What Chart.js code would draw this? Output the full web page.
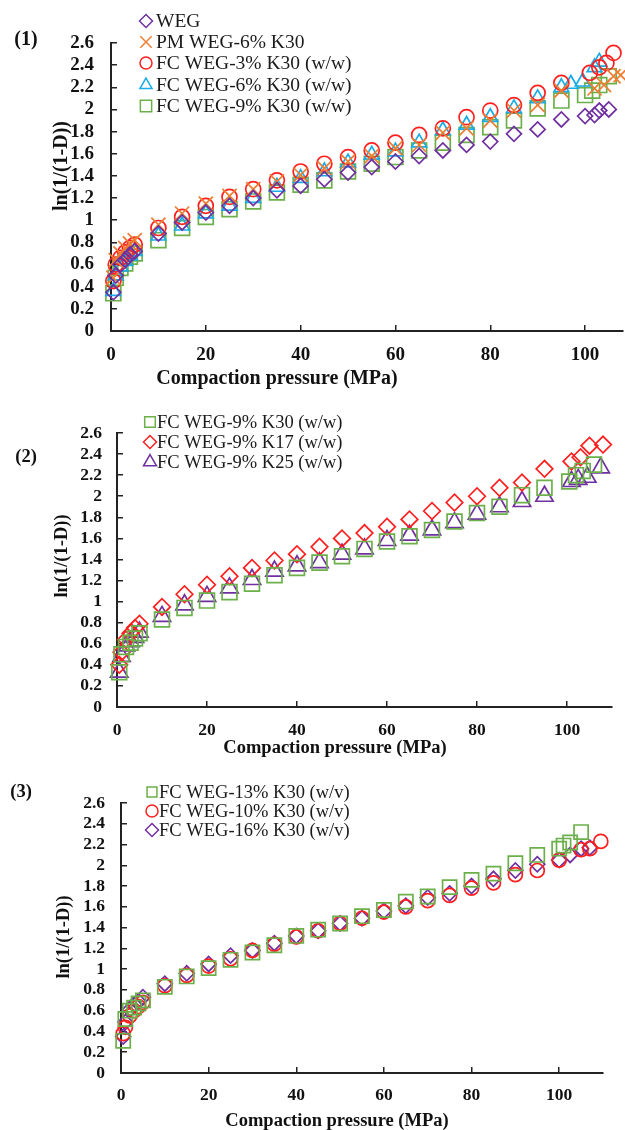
<!DOCTYPE html>
<html lang="en">
<head>
<meta charset="UTF-8" />
<title>Compaction pressure – ln(1/(1-D))</title>
<script src="https://cdn.jsdelivr.net/npm/chart.js@4.4.1/dist/chart.umd.min.js"></script>
<style>
  body { margin: 0; background: #fff; }
  .page { position: relative; width: 625px; height: 1130px; }
  .panel { position: absolute; left: 0; width: 625px; }
</style>
</head>
<body>
<div class="page">
  <div class="panel" style="top:0;height:392px"><canvas id="chart1"></canvas></div>
  <div class="panel" style="top:392px;height:370px"><canvas id="chart2"></canvas></div>
  <div class="panel" style="top:762px;height:368px"><canvas id="chart3"></canvas></div>
</div>

<script>
// pressures (MPa) shared by all runs up to 95 MPa, then each run has its own end points
const pressureBase = [0.5, 1, 2, 3, 4, 5, 10, 15, 20, 25, 30, 35, 40, 45, 50, 55, 60, 65, 70, 75, 80, 85, 90, 95];
const yTicks = [0, 0.2, 0.4, 0.6, 0.8, 1, 1.2, 1.4, 1.6, 1.8, 2, 2.2, 2.4, 2.6];
const xTicks = [0, 20, 40, 60, 80, 100];

// (1)
const p1WegTail = [100, 102, 103, 105];
const p1Weg = [0.35, 0.5, 0.6, 0.64, 0.69, 0.72, 0.88, 0.98, 1.07, 1.13, 1.2, 1.27, 1.31, 1.37, 1.43, 1.48, 1.53, 1.58, 1.63, 1.68, 1.71, 1.78, 1.82, 1.91, 1.94, 1.95, 1.99, 2.0];
const p1PmTail = [102, 104, 106, 107.5];
const p1Pm = [0.48, 0.64, 0.7, 0.75, 0.79, 0.82, 0.96, 1.06, 1.15, 1.22, 1.28, 1.35, 1.41, 1.47, 1.53, 1.58, 1.65, 1.68, 1.79, 1.83, 1.9, 1.99, 2.04, 2.17, 2.19, 2.22, 2.3, 2.31];
const p1Fc3Tail = [101, 103, 104.5, 106];
const p1Fc3 = [0.45, 0.6, 0.66, 0.71, 0.75, 0.78, 0.93, 1.03, 1.13, 1.21, 1.28, 1.36, 1.44, 1.51, 1.57, 1.63, 1.7, 1.77, 1.83, 1.93, 1.99, 2.04, 2.15, 2.24, 2.33, 2.38, 2.42, 2.51];
const p1Fc6Tail = [97, 99.5, 102, 103];
const p1Fc6 = [0.36, 0.5, 0.58, 0.63, 0.68, 0.72, 0.86, 0.95, 1.06, 1.13, 1.2, 1.3, 1.38, 1.44, 1.52, 1.59, 1.62, 1.7, 1.81, 1.86, 1.93, 2.01, 2.1, 2.2, 2.23, 2.25, 2.38, 2.43];
const p1Fc9Tail = [100, 101.5, 103, 105];
const p1Fc9 = [0.34, 0.48, 0.57, 0.61, 0.67, 0.7, 0.82, 0.93, 1.03, 1.1, 1.17, 1.25, 1.32, 1.36, 1.44, 1.51, 1.57, 1.63, 1.7, 1.77, 1.84, 1.9, 2.01, 2.08, 2.13, 2.17, 2.22, 2.3];

// (2)
const p2K30Tail = [100.5, 102, 103.5, 106];
const p2K30 = [0.33, 0.5, 0.57, 0.61, 0.65, 0.7, 0.83, 0.94, 1.01, 1.09, 1.17, 1.25, 1.32, 1.37, 1.43, 1.5, 1.57, 1.62, 1.68, 1.76, 1.84, 1.9, 2.01, 2.08, 2.14, 2.2, 2.24, 2.3];
const p2K17Tail = [101, 103, 105, 108];
const p2K17 = [0.4, 0.52, 0.64, 0.7, 0.75, 0.79, 0.95, 1.07, 1.16, 1.24, 1.32, 1.39, 1.45, 1.52, 1.6, 1.65, 1.71, 1.78, 1.86, 1.94, 2.0, 2.08, 2.13, 2.26, 2.33, 2.37, 2.48, 2.49];
const p2K25Tail = [101, 102.5, 104.5, 107.5];
const p2K25 = [0.33, 0.48, 0.58, 0.62, 0.66, 0.71, 0.86, 0.97, 1.05, 1.13, 1.21, 1.29, 1.34, 1.37, 1.45, 1.5, 1.58, 1.63, 1.68, 1.75, 1.83, 1.9, 1.95, 2.0, 2.14, 2.16, 2.18, 2.27];

// (3)
const p3W13Tail = [100, 101, 102.5, 105];
const p3W13 = [0.31, 0.52, 0.6, 0.63, 0.67, 0.7, 0.83, 0.93, 1.01, 1.09, 1.16, 1.23, 1.32, 1.38, 1.44, 1.51, 1.57, 1.65, 1.7, 1.79, 1.86, 1.92, 2.02, 2.1, 2.16, 2.19, 2.22, 2.32];
const p3W10Tail = [100, 105, 107, 109.5];
const p3W10 = [0.38, 0.44, 0.55, 0.6, 0.64, 0.68, 0.84, 0.94, 1.03, 1.1, 1.18, 1.24, 1.31, 1.37, 1.44, 1.49, 1.55, 1.6, 1.66, 1.71, 1.78, 1.83, 1.91, 1.95, 2.05, 2.15, 2.16, 2.23];
const p3W16Tail = [100, 102.5, 105, 107];
const p3W16 = [0.35, 0.49, 0.61, 0.66, 0.69, 0.73, 0.86, 0.96, 1.05, 1.13, 1.18, 1.25, 1.32, 1.37, 1.44, 1.49, 1.56, 1.61, 1.69, 1.73, 1.8, 1.87, 1.95, 2.01, 2.05, 2.1, 2.16, 2.17];

const PURPLE = "#7030A0", ORANGE = "#ED7D31", RED = "#FF1F1F", BLUE = "#1AACE8", GREEN = "#6BB04A";
const SERIF = '"Liberation Serif", "Times New Roman", serif';

function pts(tail, ys) {
  const xs = pressureBase.concat(tail);
  return ys.map((y, i) => ({ x: xs[i], y: y }));
}

function series(label, tail, ys, color, style, radius) {
  return {
    label: label,
    data: pts(tail, ys),
    showLine: false,
    pointStyle: style,
    pointRadius: radius,
    pointBorderWidth: 1.7,
    borderColor: color,
    pointBorderColor: color,
    pointBackgroundColor: "rgba(0,0,0,0)",
    clip: false
  };
}

// panel number, axis titles and the legend are drawn on the canvas here
const panelText = {
  id: "panelText",
  afterDraw(chart, args, o) {
    const ctx = chart.ctx;
    ctx.save();
    ctx.fillStyle = "#111";
    ctx.textBaseline = "middle";
    ctx.textAlign = "center";
    ctx.font = "bold " + o.titleSize + "px " + SERIF;
    ctx.fillText(o.tag, o.tagX, o.tagY);
    ctx.fillText("Compaction pressure (MPa)", o.xTitleX, o.xTitleY);
    ctx.save();
    ctx.translate(o.yTitleX, o.yTitleY);
    ctx.rotate(-Math.PI / 2);
    ctx.fillText("ln(1/(1-D))", 0, 0);
    ctx.restore();

    ctx.textAlign = "left";
    ctx.font = o.legendSize + "px " + SERIF;
    chart.data.datasets.forEach((ds, i) => {
      const y = o.legendRows[i];
      ctx.strokeStyle = ds.borderColor;
      ctx.fillStyle = "rgba(0,0,0,0)";
      ctx.lineWidth = 1.5;
      Chart.helpers.drawPoint(ctx, { pointStyle: ds.pointStyle, radius: o.legendRadius[i], rotation: 0, borderWidth: 1.5 }, o.legendX, y);
      ctx.fillStyle = "#1a1a1a";
      ctx.fillText(ds.label, o.legendTextX, y + 1);
    });
    ctx.restore();
  }
};

function makePanel(id, datasets, cfg) {
  return new Chart(document.getElementById(id), {
    type: "scatter",
    data: { datasets: datasets },
    plugins: [panelText],
    options: {
      responsive: true,
      maintainAspectRatio: false,
      animation: false,
      events: [],
      layout: { autoPadding: false, padding: { left: 0, right: cfg.padRight, top: cfg.padTop, bottom: 0 } },
      plugins: {
        legend: { display: false },
        tooltip: { enabled: false },
        panelText: cfg.text
      },
      scales: {
        x: {
          type: "linear",
          min: 0,
          max: cfg.xMax,
          afterFit: s => { s.height = cfg.xHeight; s.paddingLeft = 0; s.paddingRight = 0; },
          afterBuildTicks: s => { s.ticks = xTicks.map(v => ({ value: v })); },
          border: { display: true, color: "#222", width: 2 },
          grid: { drawOnChartArea: false, drawTicks: true, tickLength: -6, color: "#222", lineWidth: 1.5 },
          ticks: {
            autoSkip: false,
            padding: cfg.xPad,
            maxRotation: 0,
            color: "#111",
            font: { family: SERIF, weight: "bold", size: cfg.tickSize }
          }
        },
        y: {
          type: "linear",
          min: 0,
          max: 2.6,
          afterFit: s => { s.width = cfg.yWidth; },
          afterBuildTicks: s => { s.ticks = yTicks.map(v => ({ value: v })); },
          border: { display: true, color: "#222", width: 2 },
          grid: { drawOnChartArea: false, drawTicks: true, tickLength: -6, color: "#222", lineWidth: 1.5 },
          ticks: {
            autoSkip: false,
            padding: cfg.yPad,
            color: "#111",
            font: { family: SERIF, weight: "bold", size: cfg.tickSize },
            callback: v => String(+v.toFixed(1))
          }
        }
      }
    }
  });
}

makePanel("chart1", [
  series("WEG", p1WegTail, p1Weg, PURPLE, "rectRot", 7.5),
  series("PM WEG-6% K30", p1PmTail, p1Pm, ORANGE, "crossRot", 10),
  series("FC WEG-3% K30 (w/w)", p1Fc3Tail, p1Fc3, RED, "circle", 7.5),
  series("FC WEG-6% K30 (w/w)", p1Fc6Tail, p1Fc6, BLUE, "triangle", 8.5),
  series("FC WEG-9% K30 (w/w)", p1Fc9Tail, p1Fc9, GREEN, "rect", 10.5)
], {
  xMax: 108, padTop: 43, padRight: 2, yWidth: 111, xHeight: 61, xPad: 19, yPad: 23, tickSize: 19,
  text: {
    tag: "(1)", tagX: 26, tagY: 40, titleSize: 20,
    xTitleX: 277, xTitleY: 379, yTitleX: 62, yTitleY: 166,
    legendSize: 19.5, legendX: 146, legendTextX: 156,
    legendRows: [21, 42, 63, 85, 106], legendRadius: [6.5, 8, 6, 7, 8]
  }
});

makePanel("chart2", [
  series("FC WEG-9% K30 (w/w)", p2K30Tail, p2K30, GREEN, "rect", 10.5),
  series("FC WEG-9% K17 (w/w)", p2K17Tail, p2K17, RED, "rectRot", 8.3),
  series("FC WEG-9% K25 (w/w)", p2K25Tail, p2K25, PURPLE, "triangle", 10)
], {
  xMax: 110, padTop: 41, padRight: 13, yWidth: 117, xHeight: 55, xPad: 19, yPad: 21, tickSize: 17.5,
  text: {
    tag: "(2)", tagX: 26, tagY: 65, titleSize: 18.5,
    xTitleX: 335, xTitleY: 356, yTitleX: 62, yTitleY: 164,
    legendSize: 18.5, legendX: 150, legendTextX: 157,
    legendRows: [30, 50, 70], legendRadius: [7.5, 6.5, 7.5]
  }
});

makePanel("chart3", [
  series("FC WEG-13% K30 (w/v)", p3W13Tail, p3W13, GREEN, "rect", 10),
  series("FC WEG-10% K30 (w/v)", p3W10Tail, p3W10, RED, "circle", 7),
  series("FC WEG-16% K30 (w/v)", p3W16Tail, p3W16, PURPLE, "rectRot", 7.5)
], {
  xMax: 110, padTop: 41, padRight: 22, yWidth: 121, xHeight: 57, xPad: 18, yPad: 22, tickSize: 17.5,
  text: {
    tag: "(3)", tagX: 21, tagY: 30, titleSize: 18.5,
    xTitleX: 337, xTitleY: 359, yTitleX: 64, yTitleY: 175,
    legendSize: 18.5, legendX: 152, legendTextX: 159,
    legendRows: [30, 49, 68], legendRadius: [7, 6, 6.5]
  }
});
</script>
</body>
</html>
